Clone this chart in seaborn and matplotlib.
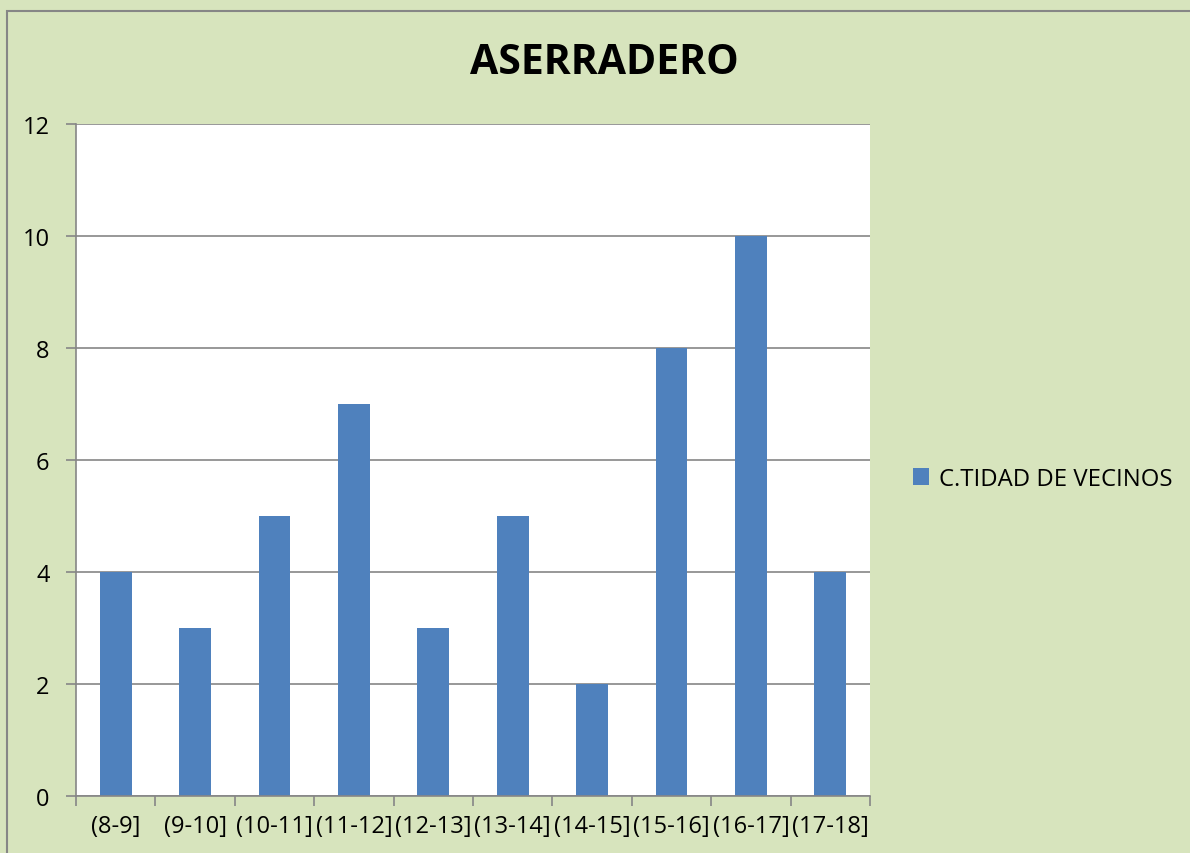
import numpy as np
import pandas as pd
import matplotlib
matplotlib.use("Agg")
import matplotlib.pyplot as plt
from matplotlib.patches import Rectangle, Patch
import seaborn as sns

# data
franjas = ["(8-9]", "(9-10]", "(10-11]", "(11-12]", "(12-13]",
           "(13-14]", "(14-15]", "(15-16]", "(16-17]", "(17-18]"]
vecinos = [4, 3, 5, 7, 3, 5, 2, 8, 10, 4]
serie = "C.TIDAD DE VECINOS"
titulo = "ASERRADERO"

bg = "#D7E4BD"
bar_color = "#4F81BD"
grid_color = "#868686"

sns.set_theme(style="white")
plt.rcParams["font.family"] = ["Open Sans", "DejaVu Sans"]
plt.rcParams["text.color"] = "black"
plt.rcParams["xtick.color"] = "black"
plt.rcParams["ytick.color"] = "black"

df = pd.DataFrame({"franja": franjas, "vecinos": vecinos})

fig = plt.figure(figsize=(11.9, 8.54), dpi=100)
fig.patch.set_facecolor(bg)
ax = fig.add_axes([76 / 1190, 1 - 797 / 854, (870 - 76) / 1190, (797 - 125) / 854])
ax.set_facecolor("white")

sns.barplot(data=df, x="franja", y="vecinos", color=bar_color, width=0.4,
            saturation=1, linewidth=0, ax=ax)

ax.set_ylim(0, 12)
ax.set_yticks(np.arange(0, 13, 2))
ax.set_xlim(-0.5, len(franjas) - 0.5)
ax.set_xlabel("")
ax.set_ylabel("")

# gridlines
ax.yaxis.grid(True, color=grid_color, linewidth=1.2)
ax.set_axisbelow(True)
for s in ["top", "right"]:
    ax.spines[s].set_visible(False)
for s in ["left", "bottom"]:
    ax.spines[s].set_color(grid_color)
    ax.spines[s].set_linewidth(1.2)

# tick marks at category boundaries, labels at centres
ax.set_xticks(np.arange(-0.5, len(franjas), 1), minor=True)
ax.tick_params(axis="x", which="minor", length=7, color=grid_color, width=1.2,
               direction="out", bottom=True)
ax.tick_params(axis="x", which="major", length=0, pad=13, labelsize=17,
               labelcolor="black")
ax.tick_params(axis="y", which="major", length=7, color=grid_color, width=1.2,
               direction="out", left=True, pad=12, labelsize=17,
               labelcolor="black")

fig.text(604 / 1190, 1 - 64 / 854, titulo, ha="center", va="center",
         fontsize=29.5, fontweight="bold", color="black")

handle = Patch(facecolor=bar_color, edgecolor="none")
fig.legend([handle], [serie], loc="center left",
           bbox_to_anchor=(891 / 1190, 1 - 480 / 854), frameon=False,
           fontsize=17.2, handlelength=0.7, handleheight=0.7,
           handletextpad=0.4, labelcolor="black")

# outer chart border
fig.patches.append(Rectangle((7 / 1190, -0.1), 1.1, 1.1 - 12 / 854,
                             transform=fig.transFigure, fill=False,
                             edgecolor=grid_color, linewidth=1.5))

fig.savefig("out.png", dpi=100, facecolor=bg)
